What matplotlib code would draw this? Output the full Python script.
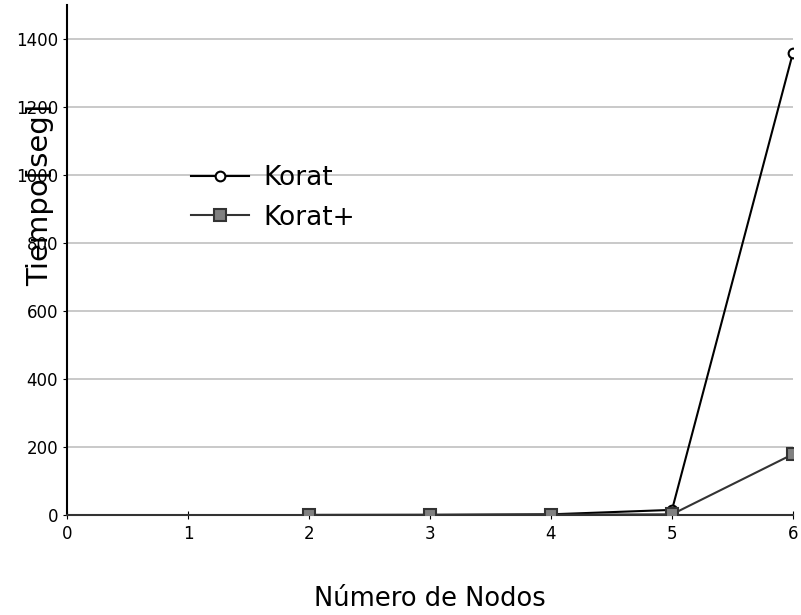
import matplotlib
matplotlib.use("Agg")
import matplotlib.pyplot as plt

# data
nodos = [2, 3, 4, 5, 6]
korat = [0.2, 0.5, 2, 15, 1360]
korat_plus = [0.1, 0.3, 1, 2, 179]
xticks = [0, 1, 2, 3, 4, 5, 6]
yticks = [0, 200, 400, 600, 800, 1000, 1200, 1400]

plt.rcParams["font.family"] = ["DejaVu Sans"]

fig = plt.figure(figsize=(8.01, 6.15), dpi=100)
ax = fig.add_axes([67 / 801, 1 - 515 / 615, 726 / 801, 510 / 615])

ax.plot(nodos, korat, color="black", lw=1.5, marker="o", ms=7,
        mfc="white", mec="black", mew=1.5, label="Korat", zorder=3)
ax.plot(nodos, korat_plus, color="#333333", lw=1.5, marker="s", ms=8,
        mfc="#808080", mec="#333333", mew=1.5, label="Korat+", zorder=4)

ax.set_xlim(0, 6)
ax.set_ylim(0, 1500)
ax.set_xticks(xticks)
ax.set_yticks(yticks)
ax.tick_params(axis="x", direction="inout", length=6, labelsize=12, pad=4)
ax.tick_params(axis="y", direction="out", length=3, labelsize=12)
ax.yaxis.grid(True, color="#c0c0c0", lw=1.2)
ax.set_axisbelow(True)
for s in ("top", "right"):
    ax.spines[s].set_visible(False)
ax.spines["left"].set_linewidth(1.5)
ax.spines["bottom"].set_color("#333333")
ax.spines["bottom"].set_linewidth(1.5)

leg = ax.legend(loc="upper left", bbox_to_anchor=(0.156, 0.706), frameon=False,
                fontsize=19, handlelength=2.2, handletextpad=0.55, labelspacing=0.5,
                borderaxespad=0)

fig.text(40 / 801, 1 - 195 / 615, "Tiempo[seg]", rotation=90, ha="center",
         va="center", fontsize=21)
fig.text(430 / 801, 1 - 599 / 615, "Número de Nodos", ha="center", va="center",
         fontsize=18.5)

fig.savefig("out.png", dpi=100)
